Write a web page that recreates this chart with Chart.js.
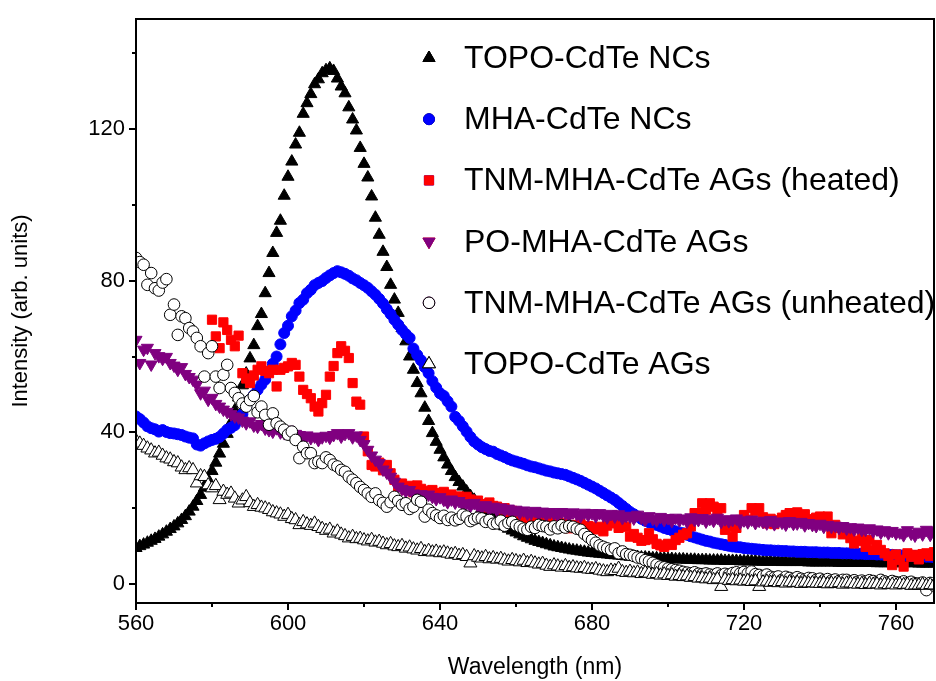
<!DOCTYPE html>
<html>
<head>
<meta charset="utf-8">
<title>PL spectra</title>
<script src="https://cdn.jsdelivr.net/npm/chart.js@4.4.1/dist/chart.umd.min.js"></script>
<style>
  html, body { margin: 0; padding: 0; background: #fff; }
  #wrap { width: 936px; height: 681px; }
</style>
</head>
<body>
<div id="wrap"><canvas id="plChart" width="936" height="681"></canvas></div>
<script>
// spectra are sampled once per nm
const nmStart = 560;       // first wavelength of most series
const heatedStart = 580;   // heated AGs spectrum starts later

const topoNCs = [
  9.5, 10, 10.4, 10.9, 11.4, 11.9, 12.5, 13.1, 13.8, 14.5,
  15.2, 16, 16.9, 17.9, 19.1, 20.4, 21.9, 23.5, 25.4, 27.5,
  29.8, 32, 34.4, 37, 39.6, 42.5, 45.8, 49.2, 52.4, 55.5,
  59.5, 63, 68, 71.2, 76.7, 82, 87.3, 92.6, 95.8, 102.4,
  107.4, 111.4, 115.9, 119, 124, 126.8, 129.2, 131.8, 133.1, 134.7,
  135.5, 136, 135.3, 133.3, 131.2, 129.4, 125.7, 122.5, 119.6, 115,
  110.8, 107.2, 102.2, 96.6, 92.1, 87.6, 83.6, 78.9, 75, 71.5,
  67.5, 64, 60, 56.5, 53, 50.3, 46.5, 43, 39.8, 37.5,
  35.4, 33.4, 31.5, 29.8, 28.2, 26.9, 25.7, 24.4, 23.2, 22.2,
  21.0, 20.0, 19.0, 18.2, 17.4, 16.6, 15.9, 15.2, 14.6, 14.1,
  13.6, 13.1, 12.6, 12.2, 11.8, 11.4, 11.1, 10.8, 10.5, 10.2,
  9.9, 9.7, 9.5, 9.3, 9.1, 8.9, 8.8, 8.6, 8.5, 8.3,
  8.2, 8.1, 8.0, 7.9, 7.8, 7.7, 7.6, 7.5, 7.4, 7.3,
  7.2, 7.2, 7.1, 7.0, 7.0, 6.9, 6.8, 6.8, 6.7, 6.7,
  6.6, 6.6, 6.5, 6.5, 6.5, 6.4, 6.4, 6.4, 6.3, 6.3,
  6.3, 6.2, 6.2, 6.2, 6.2, 6.1, 6.1, 6.1, 6.1, 6.0,
  6.0, 6.0, 6.0, 6.0, 5.9, 5.9, 5.9, 5.9, 5.9, 5.9,
  5.8, 5.8, 5.8, 5.8, 5.8, 5.8, 5.8, 5.7, 5.7, 5.7,
  5.7, 5.7, 5.7, 5.7, 5.7, 5.6, 5.6, 5.6, 5.6, 5.6,
  5.6, 5.6, 5.6, 5.6, 5.6, 5.5, 5.5, 5.5, 5.5, 5.5,
  5.5, 5.5, 5.5, 5.5, 5.5, 5.5, 5.4, 5.4, 5.4, 5.4, 5.4
];

const mhaNCs = [
  44.2, 43.5, 42.6, 41.6, 41.1, 40.8, 40.2, 40.6, 40.1, 39.8,
  39.7, 39.5, 39.3, 38.9, 38.6, 38.4, 36.8, 36.5, 37.1, 37.6,
  38.0, 38.3, 38.8, 39.7, 40.7, 41.2, 41.9, 43.3, 44.8, 46.9,
  48.6, 49.8, 51.2, 52.6, 53.9, 56.0, 58.1, 60.0, 63.2, 66.2,
  68.1, 70.6, 72.1, 74.1, 75.0, 76.7, 77.6, 78.8, 79.4, 79.9,
  80.7, 81.4, 82.0, 82.5, 82.2, 81.8, 81.3, 80.6, 80.1, 79.4,
  78.8, 78.1, 77.2, 76.3, 75.2, 74.0, 72.5, 71.2, 69.7, 68.4,
  67.0, 65.9, 64.9, 62.1, 60.4, 59.0, 57.2, 55.6, 53.5, 51.8,
  50.3, 49.6, 48.2, 46.8, 44.1, 43.0, 41.6, 40.2, 38.8, 37.6,
  36.8, 36.1, 35.6, 35.1, 34.9, 34.3, 33.9, 33.5, 33.0, 32.6,
  32.3, 32.0, 31.7, 31.3, 31.0, 30.8, 30.5, 30.2, 29.9, 29.7,
  29.4, 29.2, 29.0, 28.8, 28.4, 28.0, 27.6, 27.2, 26.7, 26.2,
  25.7, 25.2, 24.6, 24.0, 23.4, 22.8, 22.2, 21.4, 20.6, 19.8,
  19.0, 18.4, 17.8, 17.2, 16.7, 16.3, 16.0, 15.6, 15.2, 14.8,
  14.5, 14.2, 13.9, 13.6, 13.4, 13.0, 12.6, 12.3, 12.0, 11.7,
  11.4, 11.2, 10.9, 10.7, 10.5, 10.3, 10.1, 9.9, 9.8, 9.7,
  9.5, 9.4, 9.3, 9.2, 9.1, 9.0, 8.9, 8.9, 8.8, 8.8,
  8.7, 8.7, 8.6, 8.6, 8.5, 8.5, 8.5, 8.4, 8.4, 8.4,
  8.3, 8.3, 8.3, 8.2, 8.2, 8.2, 8.1, 8.1, 8.1, 8.0,
  8.0, 8.0, 7.9, 7.9, 7.9, 7.8, 7.8, 7.7, 7.7, 7.7,
  7.6, 7.6, 7.5, 7.5, 7.4, 7.4, 7.3, 7.3, 7.2, 7.2, 7.1
];

// starts at 580 nm
const tnmHeated = [
  69.7, 65.3, 62.2, 69.0, 67.0, 64.4, 62.7, 65.5, 55.6, 54.2,
  53.0, 55.0, 56.5, 57.4, 56.2, 55.6, 56.5, 52.1, 56.5, 57.0,
  57.4, 58.3, 57.8, 54.7, 51.2, 50.1, 49.0, 46.8, 45.5, 47.7,
  49.9, 54.7, 57.5, 60.9, 62.7, 61.5, 59.6, 53.0, 48.1, 47.3,
  38.9, 35.0, 31.4, 31.0, 32.0, 30.0, 31.4, 29.2, 27.5, 25.7,
  26.5, 24.8, 25.9, 24.2, 26.0, 25.1, 23.9, 24.6, 24.8, 23.5,
  24.0, 24.3, 22.8, 23.6, 22.4, 23.1, 21.9, 23.0, 22.3, 21.4,
  22.0, 21.1, 20.2, 21.5, 20.6, 20.4, 19.4, 20.0, 18.6, 19.3,
  18.2, 17.5, 18.4, 17.1, 16.9, 17.6, 16.3, 16.8, 15.8, 16.6,
  15.9, 16.5, 15.4, 16.0, 14.7, 15.6, 14.9, 15.8, 14.6, 15.3,
  15.1, 14.4, 15.1, 13.9, 15.4, 16.3, 16.0, 14.8, 15.6, 15.1,
  12.5, 13.2, 12.2, 11.4, 11.6, 13.4, 11.8, 10.6, 10.2, 9.8,
  10.6, 10.3, 11.6, 12.2, 13.0, 13.4, 15.2, 18.7, 18.7, 21.3,
  19.6, 21.3, 20.4, 19.1, 20.0, 14.3, 15.1, 12.5, 14.8, 16.9,
  18.2, 17.0, 20.0, 19.2, 20.0, 17.6, 16.0, 17.2, 15.8, 16.8,
  17.5, 18.2, 18.7, 17.4, 18.9, 17.8, 18.4, 17.1, 16.6, 17.5,
  17.8, 16.9, 17.8, 13.4, 15.6, 14.8, 13.1, 13.4, 12.1, 10.7,
  11.4, 12.2, 9.8, 11.6, 9.0, 10.3, 9.0, 8.1, 7.4, 5.0,
  7.8, 6.4, 4.6, 8.1, 7.2, 7.7, 6.5, 7.9, 8.1, 7.4, 8.4
];

const poMHA = [
  64.4, 58.3, 61.8, 62.3, 57.9, 60.9, 60.1, 59.4, 59.9, 58.3,
  57.6, 56.5, 57.2, 55.4, 54.6, 53.9, 52.6, 50.3, 51.0, 48.6,
  49.1, 47.5, 46.8, 46.0, 45.4, 44.8, 44.2, 43.9, 43.1, 42.4,
  42.9, 41.8, 41.5, 42.2, 41.0, 40.6, 40.2, 41.1, 40.0, 39.8,
  40.7, 39.4, 39.6, 39.3, 38.4, 39.2, 38.5, 38.9, 38.0, 38.7,
  39.1, 38.6, 39.3, 39.8, 38.9, 39.6, 39.8, 38.7, 39.2, 38.0,
  36.9, 35.4, 33.9, 32.8, 31.9, 30.2, 29.4, 28.3, 27.0, 25.7,
  25.1, 24.5, 24.8, 23.9, 23.2, 23.7, 23.0, 23.6, 23.0, 22.4,
  22.9, 22.2, 21.6, 22.3, 21.5, 21.9, 21.0, 21.3, 20.6, 21.4,
  20.5, 20.1, 20.8, 19.7, 20.4, 19.5, 20.2, 19.4, 19.9, 18.9,
  19.6, 18.8, 19.4, 18.6, 18.7, 19.3, 18.4, 19.1, 18.3, 19.0,
  18.6, 18.2, 19.0, 18.7, 18.1, 18.9, 18.4, 17.9, 18.8, 18.2,
  18.7, 17.9, 18.7, 18.1, 17.6, 18.5, 17.8, 18.4, 17.4, 18.0,
  17.8, 17.3, 18.3, 17.5, 16.9, 17.9, 17.2, 16.8, 17.7, 16.9,
  17.4, 16.6, 17.5, 16.8, 17.3, 16.5, 17.6, 16.9, 16.9, 17.4,
  16.5, 17.2, 16.7, 17.5, 16.4, 17.1, 16.6, 16.9, 17.3, 16.2,
  16.8, 16.3, 17.0, 16.1, 16.7, 16.4, 16.0, 16.9, 15.8, 16.5,
  16.2, 15.7, 16.6, 15.9, 16.0, 16.4, 15.5, 16.1, 15.6, 15.3,
  15.9, 15.1, 15.6, 15.1, 15.4, 14.8, 15.3, 14.6, 15.0, 14.4,
  14.9, 14.3, 14.3, 14.7, 13.9, 14.4, 13.6, 14.2, 13.4, 14.0,
  13.4, 13.6, 12.9, 14.2, 13.3, 12.8, 13.8, 13.1, 14.3, 13.0, 14.0
];

const tnmUnheated = [
  86.0, 84.9, 84.2, 78.9, 82.0, 78.0, 77.4, 79.5, 80.4, 71.0,
  73.7, 65.7, 70.6, 70.1, 67.5, 66.6, 64.9, 62.7, 54.7, 60.9,
  62.7, 54.7, 51.7, 55.2, 57.8, 51.7, 50.4, 49.0, 47.6, 46.8,
  48.5, 49.6, 45.3, 46.8, 44.6, 42.0, 45.0, 42.4, 41.5, 40.7,
  39.4, 40.2, 38.0, 33.2, 36.2, 34.5, 34.5, 31.9, 32.3, 31.9,
  33.4, 32.7, 31.5, 31.0, 30.1, 29.6, 28.3, 27.5, 26.6, 25.6,
  24.8, 23.9, 23.0, 23.9, 22.1, 21.4, 20.4, 21.6, 23.0, 21.9,
  20.9, 21.3, 19.8, 20.4, 22.2, 21.7, 17.8, 19.6, 18.7, 18.1,
  17.4, 18.0, 16.9, 17.5, 16.8, 17.2, 18.3, 17.8, 16.6, 17.1,
  17.5, 17.3, 16.4, 16.9, 15.9, 16.0, 16.7, 15.4, 16.1, 16.4,
  15.5, 15.1, 14.6, 14.3, 15.1, 14.8, 15.6, 15.3, 15.1, 14.4,
  15.2, 14.7, 15.5, 14.9, 15.3, 15.1, 14.6, 14.3, 13.2, 12.4,
  11.6, 10.9, 10.2, 9.8, 9.4, 9.0, 9.4, 8.1, 8.6, 7.9,
  7.7, 7.4, 7.0, 6.8, 6.3, 6.0, 5.6, 5.1, 4.6, 4.4,
  4.1, 3.9, 3.7, 3.5, 3.2, 3.0, 2.8, 3.1, 2.7, 2.6,
  2.8, 2.5, 2.4, 2.8, 2.3, 2.7, 2.5, 2.9, 3.1, 2.8,
  3.2, 2.8, 3.3, 2.6, 2.4, 2.1, 2.5, 1.9, 1.7, 2.0,
  1.1, 1.9, 1.6, 1.3, 1.8, 1.4, 1.2, 1.6, 1.5, 1.1,
  1.4, 1.0, 1.3, 0.9, 1.2, 0.8, 1.1, 1.1, 0.7, 1.0,
  0.6, 0.9, 0.6, 1.0, 0.8, 0.5, 1.1, 0.7, 0.4, 0.8,
  0.5, 0.3, 0.7, 0.2, 0.6, 0.2, 0.1, 0.4, -1.6, 0.3, -0.4
];

const topoAGs = [
  37.8, 37.1, 36.5, 35.8, 35.3, 34.5, 34.7, 33.9, 33.2, 32.9,
  32.2, 31.9, 30.8, 30.1, 30.6, 30.1, 26.6, 28.5, 28.3, 26.1,
  25.3, 25.9, 22.2, 24.4, 23.6, 23.9, 22.6, 21.3, 22.1, 23.0,
  21.4, 20.4, 20.9, 20.2, 20.0, 19.6, 19.0, 18.7, 18.4, 17.8,
  18.3, 17.2, 16.9, 15.6, 16.4, 15.8, 15.4, 16.0, 15.1, 14.6,
  14.1, 14.4, 13.4, 13.9, 13.1, 12.7, 12.1, 12.5, 11.9, 12.0,
  11.6, 11.3, 11.7, 11.0, 11.2, 10.7, 10.3, 10.6, 10.0, 9.8,
  10.1, 9.4, 9.7, 9.2, 8.9, 9.3, 8.5, 8.8, 8.4, 8.6,
  8.2, 8.4, 8.1, 7.8, 8.0, 7.5, 7.7, 7.2, 5.5, 7.4,
  7.0, 6.8, 7.2, 6.6, 6.9, 6.5, 6.7, 6.3, 6.0, 6.4,
  6.1, 5.8, 6.2, 5.6, 5.9, 5.5, 5.2, 5.4, 4.9, 4.6,
  5.0, 4.7, 4.4, 4.8, 4.3, 4.5, 4.2, 4.1, 4.3, 3.9,
  3.8, 4.0, 3.6, 3.4, 3.2, 3.6, 3.5, 4.1, 3.2, 3.0,
  3.3, 2.9, 3.1, 2.7, 3.0, 2.8, 2.5, 2.7, 2.3, 2.6,
  2.2, 2.4, 2.0, 2.2, 1.9, 2.1, 1.7, 1.9, 1.5, 1.6,
  1.3, 1.5, 1.1, 1.3, -0.7, 1.2, 0.9, 1.1, 0.8, 1.0,
  0.7, 0.9, 0.6, 0.8, -0.7, 0.5, 0.7, 0.4, 0.6, 0.3,
  0.6, 0.2, 0.5, 0.3, 0.4, 0.1, 0.4, 0.2, 0.3, 0.2,
  0.1, 0.3, 0.0, 0.2, 0.1, 0.3, -0.1, 0.2, 0.2, 0.0,
  -0.1, 0.1, -0.2, 0.1, -0.1, 0.0, -0.3, 0.0, -0.2, -0.1,
  -0.3, 0.0, -0.2, -0.1, -0.4, -0.3, -0.3, -0.1, -0.4, -0.2, -0.3
];

const seriesLabels = [
  'TOPO-CdTe NCs',
  'MHA-CdTe NCs',
  'TNM-MHA-CdTe AGs (heated)',
  'PO-MHA-CdTe AGs',
  'TNM-MHA-CdTe AGs (unheated)',
  'TOPO-CdTe AGs'
];

const FONT = '"Liberation Sans", Arial, Helvetica, sans-serif';

function toPoints(values, start) {
  return values.map((v, i) => ({ x: start + i, y: v }));
}

// plot frame plus outward tick marks (long on labelled ticks, short between)
const frameTicks = {
  id: 'frameTicks',
  afterDatasetsDraw(chart) {
    const { ctx, chartArea: a, scales } = chart;
    ctx.save();
    ctx.strokeStyle = '#000';
    ctx.lineWidth = 2;
    ctx.strokeRect(a.left, a.top, a.right - a.left, a.bottom - a.top);
    ctx.beginPath();
    scales.x.ticks.forEach(t => {
      const px = Math.round(scales.x.getPixelForValue(t.value));
      const len = t.value % 40 === 0 ? 7 : 4;
      ctx.moveTo(px, a.bottom);
      ctx.lineTo(px, a.bottom + len);
    });
    scales.y.ticks.forEach(t => {
      const py = Math.round(scales.y.getPixelForValue(t.value));
      const len = t.value % 40 === 0 ? 7 : 4;
      ctx.moveTo(a.left, py);
      ctx.lineTo(a.left - len, py);
    });
    ctx.stroke();
    ctx.restore();
  }
};

// legend stacked inside the plot, upper right
const insideLegend = {
  id: 'insideLegend',
  afterDraw(chart) {
    const { ctx } = chart;
    const markerX = 429, textX = 464, firstRow = 57, rowGap = 61.2;
    ctx.save();
    chart.data.datasets.forEach((ds, i) => {
      const y = firstRow + i * rowGap;
      Chart.helpers.drawPoint(ctx, {
        pointStyle: ds.pointStyle,
        rotation: ds.rotation || 0,
        radius: ds.pointRadius,
        borderWidth: ds.borderWidth
      }, markerX, y + 1);
      ctx.fillStyle = ds.backgroundColor;
      ctx.strokeStyle = ds.borderColor;
      ctx.lineWidth = ds.borderWidth;
      ctx.fill();
      if (ds.borderWidth) ctx.stroke();
      ctx.fillStyle = '#000';
      ctx.font = '32px ' + FONT;
      ctx.textAlign = 'left';
      ctx.textBaseline = 'alphabetic';
      ctx.fillText(ds.label, textX, y + 11);
    });
    ctx.restore();
  }
};

const ctx = document.getElementById('plChart').getContext('2d');
new Chart(ctx, {
  type: 'scatter',
  data: {
    datasets: [
      {
        label: seriesLabels[0],
        data: toPoints(topoNCs, nmStart),
        pointStyle: 'triangle', pointRadius: 7,
        backgroundColor: '#000000', borderColor: '#000000', borderWidth: 1,
        order: 6
      },
      {
        label: seriesLabels[1],
        data: toPoints(mhaNCs, nmStart),
        pointStyle: 'circle', pointRadius: 5.5,
        backgroundColor: '#0000ff', borderColor: '#0000ff', borderWidth: 1,
        order: 5
      },
      {
        label: seriesLabels[2],
        data: toPoints(tnmHeated, heatedStart),
        pointStyle: 'rect', pointRadius: 6.5,
        backgroundColor: '#ff0000', borderColor: '#ff0000', borderWidth: 1,
        order: 4
      },
      {
        label: seriesLabels[3],
        data: toPoints(poMHA, nmStart),
        pointStyle: 'triangle', rotation: 180, pointRadius: 7,
        backgroundColor: '#800080', borderColor: '#800080', borderWidth: 1,
        order: 3
      },
      {
        label: seriesLabels[4],
        data: toPoints(tnmUnheated, nmStart),
        pointStyle: 'circle', pointRadius: 5.8,
        backgroundColor: '#ffffff', borderColor: '#000000', borderWidth: 1,
        order: 2
      },
      {
        label: seriesLabels[5],
        data: toPoints(topoAGs, nmStart),
        pointStyle: 'triangle', pointRadius: 7.5,
        backgroundColor: '#ffffff', borderColor: '#000000', borderWidth: 1,
        order: 1
      }
    ]
  },
  options: {
    responsive: false,
    animation: false,
    showLine: false,
    layout: { autoPadding: false, padding: { top: 19, right: 2, left: 0, bottom: 0 } },
    plugins: {
      legend: { display: false },
      tooltip: { enabled: false }
    },
    scales: {
      x: {
        type: 'linear',
        min: 560, max: 770,
        grid: { display: false, drawTicks: false },
        border: { display: false },
        ticks: {
          stepSize: 20, autoSkip: false, includeBounds: false, padding: 8,
          color: '#000', font: { family: FONT, size: 22 },
          maxRotation: 0,
          callback: v => (v % 40 === 0 ? v : '')
        },
        title: {
          display: true, text: 'Wavelength (nm)', color: '#000',
          font: { family: FONT, size: 23 }, padding: { top: 0, bottom: 0 }
        },
        afterFit: scale => {
          scale.height = 78;
          scale.paddingLeft = 0;
          scale.paddingRight = 0;
        }
      },
      y: {
        type: 'linear',
        min: -5, max: 149,
        grid: { display: false, drawTicks: false },
        border: { display: false },
        ticks: {
          stepSize: 20, autoSkip: false, includeBounds: false, padding: 11,
          color: '#000', font: { family: FONT, size: 22 },
          callback: v => (v % 40 === 0 ? v : '')
        },
        title: {
          display: true, text: 'Intensity (arb. units)', color: '#000',
          font: { family: FONT, size: 22 }, padding: { top: 8, bottom: 0 }
        },
        afterFit: scale => {
          scale.width = 136;
          scale.paddingTop = 0;
          scale.paddingBottom = 0;
        }
      }
    }
  },
  plugins: [frameTicks, insideLegend]
});
</script>
</body>
</html>
